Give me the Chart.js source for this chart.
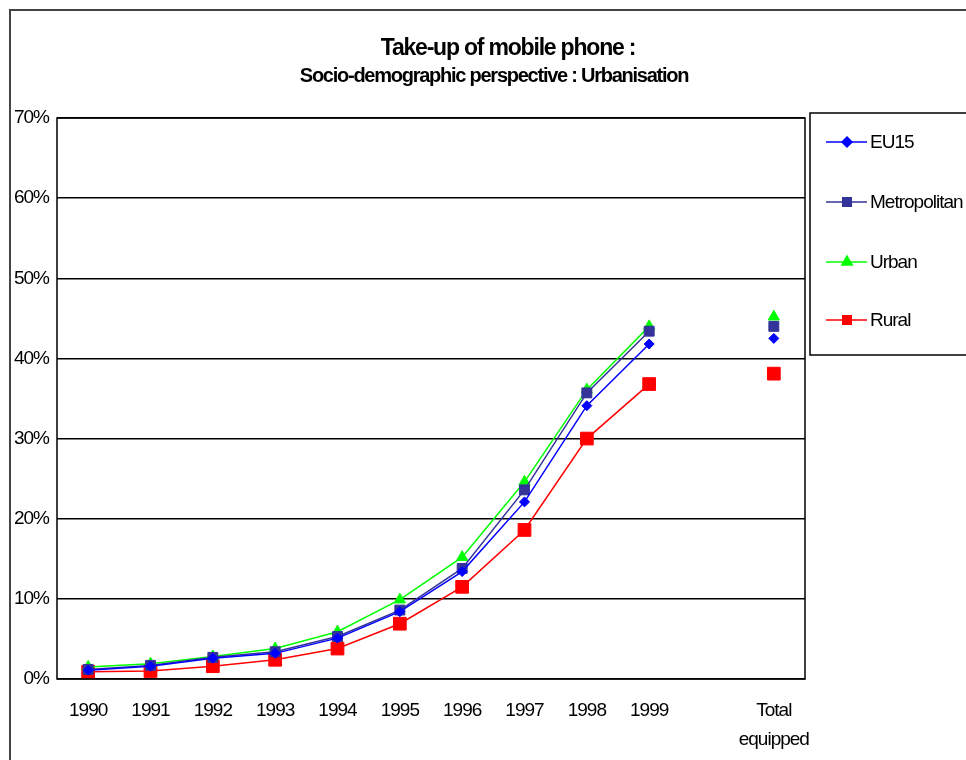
<!DOCTYPE html>
<html>
<head>
<meta charset="utf-8">
<script src="https://cdn.jsdelivr.net/npm/chart.js@4/dist/chart.umd.min.js"></script>
<style>
  html, body { margin: 0; padding: 0; background: #fff; }
  #wrap { position: relative; width: 966px; height: 760px; }
</style>
</head>
<body>
<div id="wrap"><canvas id="lineChart"></canvas></div>
<script>
/* =========================
   DATA
========================= */
const categories = ["1990", "1991", "1992", "1993", "1994", "1995", "1996", "1997", "1998", "1999", "", ["Total", "equipped"]];
const eu15 = [1.1, 1.6, 2.6, 3.2, 5.1, 8.4, 13.4, 22.1, 34.1, 41.8, null, 42.5];
const metropolitan = [1.2, 1.7, 2.7, 3.4, 5.3, 8.6, 13.8, 23.6, 35.7, 43.4, null, 44.0];
const urban = [1.5, 1.9, 2.8, 3.8, 5.9, 9.9, 15.2, 24.6, 36.1, 44.0, null, 45.2];
const rural = [0.9, 1.0, 1.6, 2.4, 3.8, 6.9, 11.5, 18.6, 30.0, 36.8, null, 38.1];
const yTicks = [0, 10, 20, 30, 40, 50, 60, 70];
const titleText = "Take-up of mobile phone :";
const subtitleText = "Socio-demographic perspective : Urbanisation";

const FONT = "'Liberation Sans', Arial, sans-serif";

/* =========================
   PLUGIN – frames, titles, legend box
========================= */
const decorPlugin = {
  id: "decor",
  beforeDraw(chart) {
    // cramped lettering like the original
    chart.ctx.letterSpacing = "-1px";
  },
  afterDraw(chart) {
    const ctx = chart.ctx;
    const a = chart.chartArea;
    ctx.save();

    // outer frame (cropped)
    ctx.strokeStyle = "#444";
    ctx.lineWidth = 2;
    ctx.beginPath();
    ctx.moveTo(10, 760);
    ctx.lineTo(10, 10);
    ctx.lineTo(966, 10);
    ctx.stroke();

    // plot frame
    ctx.strokeStyle = "#000";
    ctx.lineWidth = 1.5;
    ctx.strokeRect(a.left, a.top, a.right - a.left, a.bottom - a.top);

    // titles
    ctx.fillStyle = "#000";
    ctx.textAlign = "center";
    ctx.textBaseline = "alphabetic";
    ctx.letterSpacing = "-1.2px";
    ctx.font = "bold 23px " + FONT;
    ctx.fillText(titleText, 508, 55);
    ctx.letterSpacing = "-1.25px";
    ctx.font = "bold 20px " + FONT;
    ctx.fillText(subtitleText, 494, 82);

    // legend box
    ctx.letterSpacing = "-1px";
    ctx.lineWidth = 1.5;
    ctx.strokeStyle = "#000";
    ctx.strokeRect(810, 113, 200, 242);
    const rows = [142, 202, 262, 320];
    ctx.font = "19px " + FONT;
    ctx.textAlign = "left";
    ctx.textBaseline = "middle";
    chart.data.datasets.forEach((ds, i) => {
      const y = rows[i];
      ctx.strokeStyle = ds.borderColor;
      ctx.lineWidth = ds.borderWidth;
      ctx.beginPath();
      ctx.moveTo(826, y);
      ctx.lineTo(867, y);
      ctx.stroke();
      ctx.fillStyle = ds.pointBackgroundColor;
      ctx.strokeStyle = ds.pointBorderColor;
      Chart.helpers.drawPoint(ctx, {
        pointStyle: ds.pointStyle,
        radius: Math.min(ds.pointRadius, 6),
        rotation: 0,
        borderWidth: 1
      }, 847, y);
      ctx.fillStyle = "#000";
      ctx.fillText(ds.label, 870, y + 1);
    });

    ctx.restore();
  }
};

/* =========================
   LINE CHART
========================= */
function series(label, data, color, style, radius) {
  return {
    label: label,
    data: data,
    borderColor: color,
    backgroundColor: color,
    pointBackgroundColor: color,
    pointBorderColor: color,
    pointStyle: style,
    pointRadius: radius,
    pointBorderWidth: 1,
    borderWidth: 1.5,
    tension: 0,
    spanGaps: false,
    fill: false
  };
}

const lineCtx = document.getElementById("lineChart");

new Chart(lineCtx, {
  type: "line",
  data: {
    labels: categories,
    datasets: [
      series("EU15", eu15, "#0000ff", "rectRot", 5),
      series("Metropolitan", metropolitan, "#333399", "rect", 7),
      series("Urban", urban, "#00ff00", "triangle", 6.5),
      series("Rural", rural, "#ff0000", "rect", 9)
    ]
  },
  options: {
    responsive: true,
    maintainAspectRatio: false,
    animation: false,
    layout: {
      padding: { top: 118, right: 161, left: 0, bottom: 0 }
    },
    plugins: {
      legend: { display: false },
      title: { display: false },
      tooltip: { enabled: false }
    },
    scales: {
      x: {
        offset: true,
        grid: { display: false, drawTicks: false },
        border: { display: false },
        ticks: {
          color: "#000",
          font: { family: FONT, size: 19, lineHeight: 1.55 },
          padding: 17,
          maxRotation: 0,
          autoSkip: false
        },
        afterFit: (scale) => { scale.height = 81; }
      },
      y: {
        min: 0,
        max: 70,
        afterBuildTicks: (scale) => { scale.ticks = yTicks.map(v => ({ value: v })); },
        grid: { color: "#000", lineWidth: 1.5, drawTicks: false },
        border: { display: false },
        ticks: {
          color: "#000",
          font: { family: FONT, size: 19 },
          padding: 8,
          callback: (value) => value + "%"
        },
        afterFit: (scale) => { scale.width = 57; }
      }
    }
  },
  plugins: [decorPlugin]
});
</script>
</body>
</html>
